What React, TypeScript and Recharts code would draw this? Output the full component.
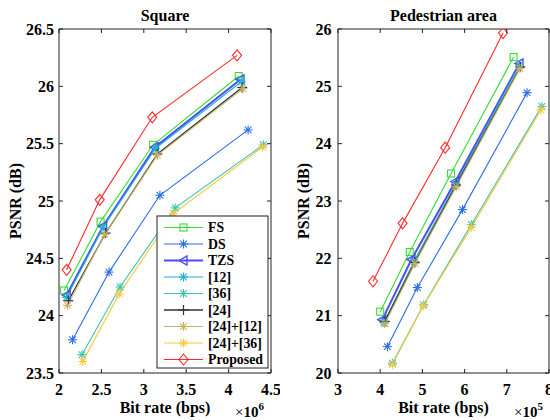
import React from "react";
import { LineChart, Line, XAxis, YAxis, ReferenceLine } from "recharts";

const methods = ["FS", "DS", "TZS", "[12]", "[36]", "[24]", "[24]+[12]", "[24]+[36]", "Proposed"];
const colors = ["#33dd33", "#2a6fe6", "#4d4df0", "#1fb0d8", "#3cc4ac", "#333333", "#c8b460", "#ffc83c", "#ff2a2a"];
const shapes = ["square", "asterisk", "triangle", "asterisk", "asterisk", "plus", "asterisk", "asterisk", "diamond"];
const widths = [1.1, 1.1, 2, 1.1, 1.1, 1.3, 1.1, 1.1, 1.1];

// Square sequence, bit rate in x10^6 bps
const squareRate = [
  [2.06, 2.49, 3.11, 4.12],
  [2.16, 2.59, 3.19, 4.23],
  [2.09, 2.52, 3.13, 4.14],
  [2.09, 2.52, 3.14, 4.15],
  [2.27, 2.72, 3.37, 4.41],
  [2.11, 2.55, 3.16, 4.16],
  [2.1, 2.54, 3.16, 4.17],
  [2.28, 2.71, 3.35, 4.4],
  [2.09, 2.48, 3.1, 4.1]
];
const squarePsnr = [
  [24.22, 24.82, 25.49, 26.09],
  [23.79, 24.38, 25.05, 25.62],
  [24.18, 24.78, 25.47, 26.06],
  [24.16, 24.77, 25.46, 26.04],
  [23.66, 24.25, 24.94, 25.49],
  [24.13, 24.72, 25.41, 25.99],
  [24.09, 24.71, 25.4, 25.98],
  [23.6, 24.19, 24.89, 25.47],
  [24.4, 25.01, 25.73, 26.27]
];

// Pedestrian area sequence, bit rate in x10^5 bps
const pedRate = [
  [4.0, 4.7, 5.68, 7.16],
  [4.17, 4.88, 5.95, 7.48],
  [4.05, 4.74, 5.78, 7.3],
  [4.09, 4.8, 5.79, 7.3],
  [4.29, 5.03, 6.16, 7.83],
  [4.11, 4.82, 5.8, 7.32],
  [4.11, 4.82, 5.8, 7.31],
  [4.29, 5.02, 6.16, 7.81],
  [3.83, 4.53, 5.54, 6.91]
];
const pedPsnr = [
  [21.07, 22.11, 23.48, 25.51],
  [20.46, 21.49, 22.85, 24.89],
  [20.93, 21.98, 23.34, 25.4],
  [20.88, 21.95, 23.3, 25.37],
  [20.17, 21.19, 22.59, 24.65],
  [20.9, 21.93, 23.28, 25.34],
  [20.86, 21.91, 23.25, 25.31],
  [20.15, 21.17, 22.54, 24.59],
  [21.6, 22.61, 23.93, 25.93]
];

const squareXTicks = [2, 2.5, 3, 3.5, 4, 4.5];
const squareYTicks = [23.5, 24, 24.5, 25, 25.5, 26, 26.5];
const pedXTicks = [3, 4, 5, 6, 7, 8];
const pedYTicks = [20, 21, 22, 23, 24, 25, 26];

const FONT = "'Liberation Serif', 'Times New Roman', serif";
const AX = "#222";

function Marker({ shape, cx, cy, color }: { shape: string; cx: number; cy: number; color: string }) {
  if (cx == null || cy == null) return null;
  const sw = 1.1;
  if (shape === "square") {
    return <rect x={cx - 3.5} y={cy - 3.5} width={7} height={7} fill="none" stroke={color} strokeWidth={sw} />;
  }
  if (shape === "triangle") {
    return (
      <polygon
        points={`${cx - 4.5},${cy} ${cx + 3.5},${cy - 4.5} ${cx + 3.5},${cy + 4.5}`}
        fill="none"
        stroke={color}
        strokeWidth={1.4}
      />
    );
  }
  if (shape === "diamond") {
    return (
      <polygon
        points={`${cx},${cy - 5.5} ${cx + 4.5},${cy} ${cx},${cy + 5.5} ${cx - 4.5},${cy}`}
        fill="none"
        stroke={color}
        strokeWidth={sw}
      />
    );
  }
  if (shape === "plus") {
    return (
      <g stroke={color} strokeWidth={1.2}>
        <line x1={cx - 5} y1={cy} x2={cx + 5} y2={cy} />
        <line x1={cx} y1={cy - 5} x2={cx} y2={cy + 5} />
      </g>
    );
  }
  const r = 4.5;
  const d = 3.3;
  return (
    <g stroke={color} strokeWidth={sw}>
      <line x1={cx - r} y1={cy} x2={cx + r} y2={cy} />
      <line x1={cx} y1={cy - r} x2={cx} y2={cy + r} />
      <line x1={cx - d} y1={cy - d} x2={cx + d} y2={cy + d} />
      <line x1={cx - d} y1={cy + d} x2={cx + d} y2={cy - d} />
    </g>
  );
}

type Box = { left: number; right: number; top: number; bottom: number; labelGap: number };

function XTick(box: Box) {
  return (props: any) => {
    const { x, payload } = props;
    return (
      <g>
        <line x1={x} y1={box.bottom} x2={x} y2={box.bottom - 4} stroke={AX} />
        <line x1={x} y1={box.top} x2={x} y2={box.top + 4} stroke={AX} />
        <text x={x} y={395} textAnchor="middle" fontFamily={FONT} fontWeight="bold" fontSize={16} fill="#000">
          {payload.value}
        </text>
      </g>
    );
  };
}

function YTick(box: Box) {
  return (props: any) => {
    const { y, payload } = props;
    return (
      <g>
        <line x1={box.left} y1={y} x2={box.left + 4} y2={y} stroke={AX} />
        <line x1={box.right} y1={y} x2={box.right - 4} y2={y} stroke={AX} />
        <text
          x={box.left - box.labelGap}
          y={y + 5.5}
          textAnchor="end"
          fontFamily={FONT}
          fontWeight="bold"
          fontSize={16}
          fill="#000"
        >
          {payload.value}
        </text>
      </g>
    );
  };
}

function Panel({
  rate,
  psnr,
  xTicks,
  yTicks,
  width,
  yAxisWidth,
  marginRight,
  box
}: {
  rate: number[][];
  psnr: number[][];
  xTicks: number[];
  yTicks: number[];
  width: number;
  yAxisWidth: number;
  marginRight: number;
  box: Box;
}) {
  const xDom: [number, number] = [xTicks[0], xTicks[xTicks.length - 1]];
  const yDom: [number, number] = [yTicks[0], yTicks[yTicks.length - 1]];
  return (
    <LineChart width={width} height={420} margin={{ top: 29, right: marginRight, bottom: 0, left: 0 }}>
      <XAxis
        type="number"
        dataKey="x"
        domain={xDom}
        ticks={xTicks}
        interval={0}
        height={47}
        tickLine={false}
        tickSize={0}
        axisLine={{ stroke: AX }}
        tick={XTick(box)}
        allowDataOverflow
      />
      <YAxis
        type="number"
        dataKey="y"
        domain={yDom}
        ticks={yTicks}
        interval={0}
        width={yAxisWidth}
        tickLine={false}
        tickSize={0}
        axisLine={{ stroke: AX }}
        tick={YTick(box)}
        allowDataOverflow
      />
      <ReferenceLine y={yDom[1]} stroke={AX} />
      <ReferenceLine x={xDom[1]} stroke={AX} />
      {methods.map((m, i) => (
        <Line
          key={m}
          name={m}
          data={rate[i].map((x, j) => ({ x, y: psnr[i][j] }))}
          dataKey="y"
          stroke={colors[i]}
          strokeWidth={widths[i]}
          isAnimationActive={false}
          dot={(p: any) => <Marker key={`${m}-${p.index}`} shape={shapes[i]} cx={p.cx} cy={p.cy} color={colors[i]} />}
          activeDot={false}
        />
      ))}
    </LineChart>
  );
}

function LegendBox() {
  const x0 = 157;
  const y0 = 216;
  const rowH = 16.5;
  return (
    <g>
      <rect x={x0} y={y0} width={111} height={152} fill="#fff" stroke={AX} strokeWidth={1} />
      {methods.map((m, i) => {
        const cy = 227.5 + i * rowH;
        return (
          <g key={m}>
            <line x1={164} y1={cy} x2={203} y2={cy} stroke={colors[i]} strokeWidth={widths[i]} />
            <Marker shape={shapes[i]} cx={183.5} cy={cy} color={colors[i]} />
            <text x={208} y={cy + 4.8} fontFamily={FONT} fontWeight="bold" fontSize={13.8} fill="#000">
              {m}
            </text>
          </g>
        );
      })}
    </g>
  );
}

export default function App() {
  const leftBox: Box = { left: 59, right: 271, top: 29, bottom: 373, labelGap: 5 };
  const rightBox: Box = { left: 58, right: 269, top: 29, bottom: 373, labelGap: 6.5 };
  const txt = { fontFamily: FONT, fontWeight: "bold" as const, fill: "#000" };
  return (
    <div style={{ position: "absolute", left: 0, top: 0, width: 550, height: 420, background: "#fff", overflow: "hidden" }}>
      <div style={{ position: "absolute", left: 0, top: 0 }}>
        <Panel
          rate={squareRate}
          psnr={squarePsnr}
          xTicks={squareXTicks}
          yTicks={squareYTicks}
          width={280}
          yAxisWidth={59}
          marginRight={9}
          box={leftBox}
        />
      </div>
      <div style={{ position: "absolute", left: 280, top: 0 }}>
        <Panel
          rate={pedRate}
          psnr={pedPsnr}
          xTicks={pedXTicks}
          yTicks={pedYTicks}
          width={270}
          yAxisWidth={58}
          marginRight={1}
          box={rightBox}
        />
      </div>
      <svg width={550} height={420} style={{ position: "absolute", left: 0, top: 0, pointerEvents: "none" }}>
        <text x={165} y={21} textAnchor="middle" fontSize={16} {...txt}>Square</text>
        <text x={443.5} y={21} textAnchor="middle" fontSize={16} {...txt}>Pedestrian area</text>
        <text x={165} y={413} textAnchor="middle" fontSize={16} {...txt}>Bit rate (bps)</text>
        <text x={443.5} y={413} textAnchor="middle" fontSize={16} {...txt}>Bit rate (bps)</text>
        <text x={20.5} y={201} textAnchor="middle" fontSize={16} transform="rotate(-90 20.5 201)" {...txt}>PSNR (dB)</text>
        <text x={309} y={201} textAnchor="middle" fontSize={16} transform="rotate(-90 309 201)" {...txt}>PSNR (dB)</text>
        <text x={235} y={416.5} fontFamily={FONT} fontSize={15} fill="#000">
          ×<tspan fontWeight="bold">10</tspan>
          <tspan fontWeight="bold" fontSize={11} dy={-7}>6</tspan>
        </text>
        <text x={514} y={416.5} fontFamily={FONT} fontSize={15} fill="#000">
          ×<tspan fontWeight="bold">10</tspan>
          <tspan fontWeight="bold" fontSize={11} dy={-7}>5</tspan>
        </text>
        <LegendBox />
      </svg>
    </div>
  );
}
